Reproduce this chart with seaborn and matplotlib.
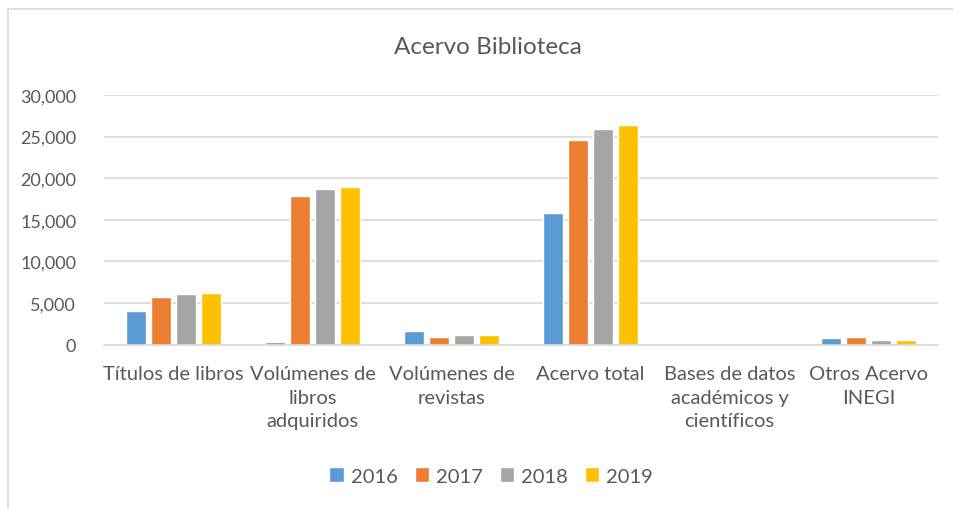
import matplotlib
matplotlib.use("Agg")
import matplotlib.pyplot as plt
import seaborn as sns
import pandas as pd
from matplotlib.patches import Rectangle
from matplotlib.ticker import FuncFormatter

categories = ["Títulos de libros", "Volúmenes de\nlibros\nadquiridos", "Volúmenes de\nrevistas",
              "Acervo total", "Bases de datos\nacadémicos y\ncientíficos", "Otros Acervo\nINEGI"]
years = ["2016", "2017", "2018", "2019"]
v2016 = [4000, 280, 1600, 15780, 0, 760]
v2017 = [5770, 17860, 960, 24640, 0, 910]
v2018 = [6050, 18750, 1120, 25960, 0, 550]
v2019 = [6170, 18990, 1120, 26360, 0, 580]
colors = ["#5B9BD5", "#ED7D31", "#A5A5A5", "#FFC000"]

rows = []
for y, vals in zip(years, [v2016, v2017, v2018, v2019]):
    for c, v in zip(categories, vals):
        rows.append({"cat": c, "year": y, "value": v})
df = pd.DataFrame(rows)

sns.set_theme(style="white")
plt.rcParams["font.family"] = ["Lato", "DejaVu Sans"]
txt = "#595959"

fig = plt.figure(figsize=(9.54, 5.10), dpi=100)
ax = fig.add_axes([104/954, 1-345.5/510, (938-104)/954, (345.5-96)/510])
sns.barplot(data=df, x="cat", y="value", hue="year", palette=colors, width=0.72, gap=0.2,
            saturation=1, ax=ax, legend=True)
ax.set_ylim(0, 30000)
ax.set_xlim(-0.5, 5.5)
ax.set_yticks(range(0, 30001, 5000))
ax.yaxis.set_major_formatter(FuncFormatter(lambda v, p: f"{int(v):,}"))
ax.grid(axis="y", color="#D9D9D9", linewidth=1.2)
ax.set_axisbelow(True)
for s in ["top", "right", "left"]:
    ax.spines[s].set_visible(False)
ax.spines["bottom"].set_color("#D9D9D9")
ax.spines["bottom"].set_linewidth(1.2)
ax.set_xlabel("")
ax.set_ylabel("")
ax.tick_params(axis="y", labelsize=13, labelcolor=txt, length=0, pad=20)
ax.tick_params(axis="x", labelsize=14.5, labelcolor=txt, length=0, pad=15)
for lab in ax.get_xticklabels():
    lab.set_linespacing(1.45)
fig.text(488/954, 1-48/510, "Acervo Biblioteca", ha="center", va="center", fontsize=17.5, color=txt)

ax.get_legend().remove()
handles, labels = ax.get_legend_handles_labels()
fig.legend(handles, labels, loc="center", bbox_to_anchor=(491/954, 1-477/510), ncol=4, frameon=False,
           fontsize=14.5, labelcolor=txt, handlelength=0.7, handleheight=0.7, handletextpad=0.35,
           columnspacing=0.85)

fig.patches.append(Rectangle((8/954, -0.1), 1.2, (1-10/510)+0.1, transform=fig.transFigure,
                             fill=False, edgecolor="#D9D9D9", linewidth=1.2))
fig.savefig("out.png", dpi=100, facecolor="white")
